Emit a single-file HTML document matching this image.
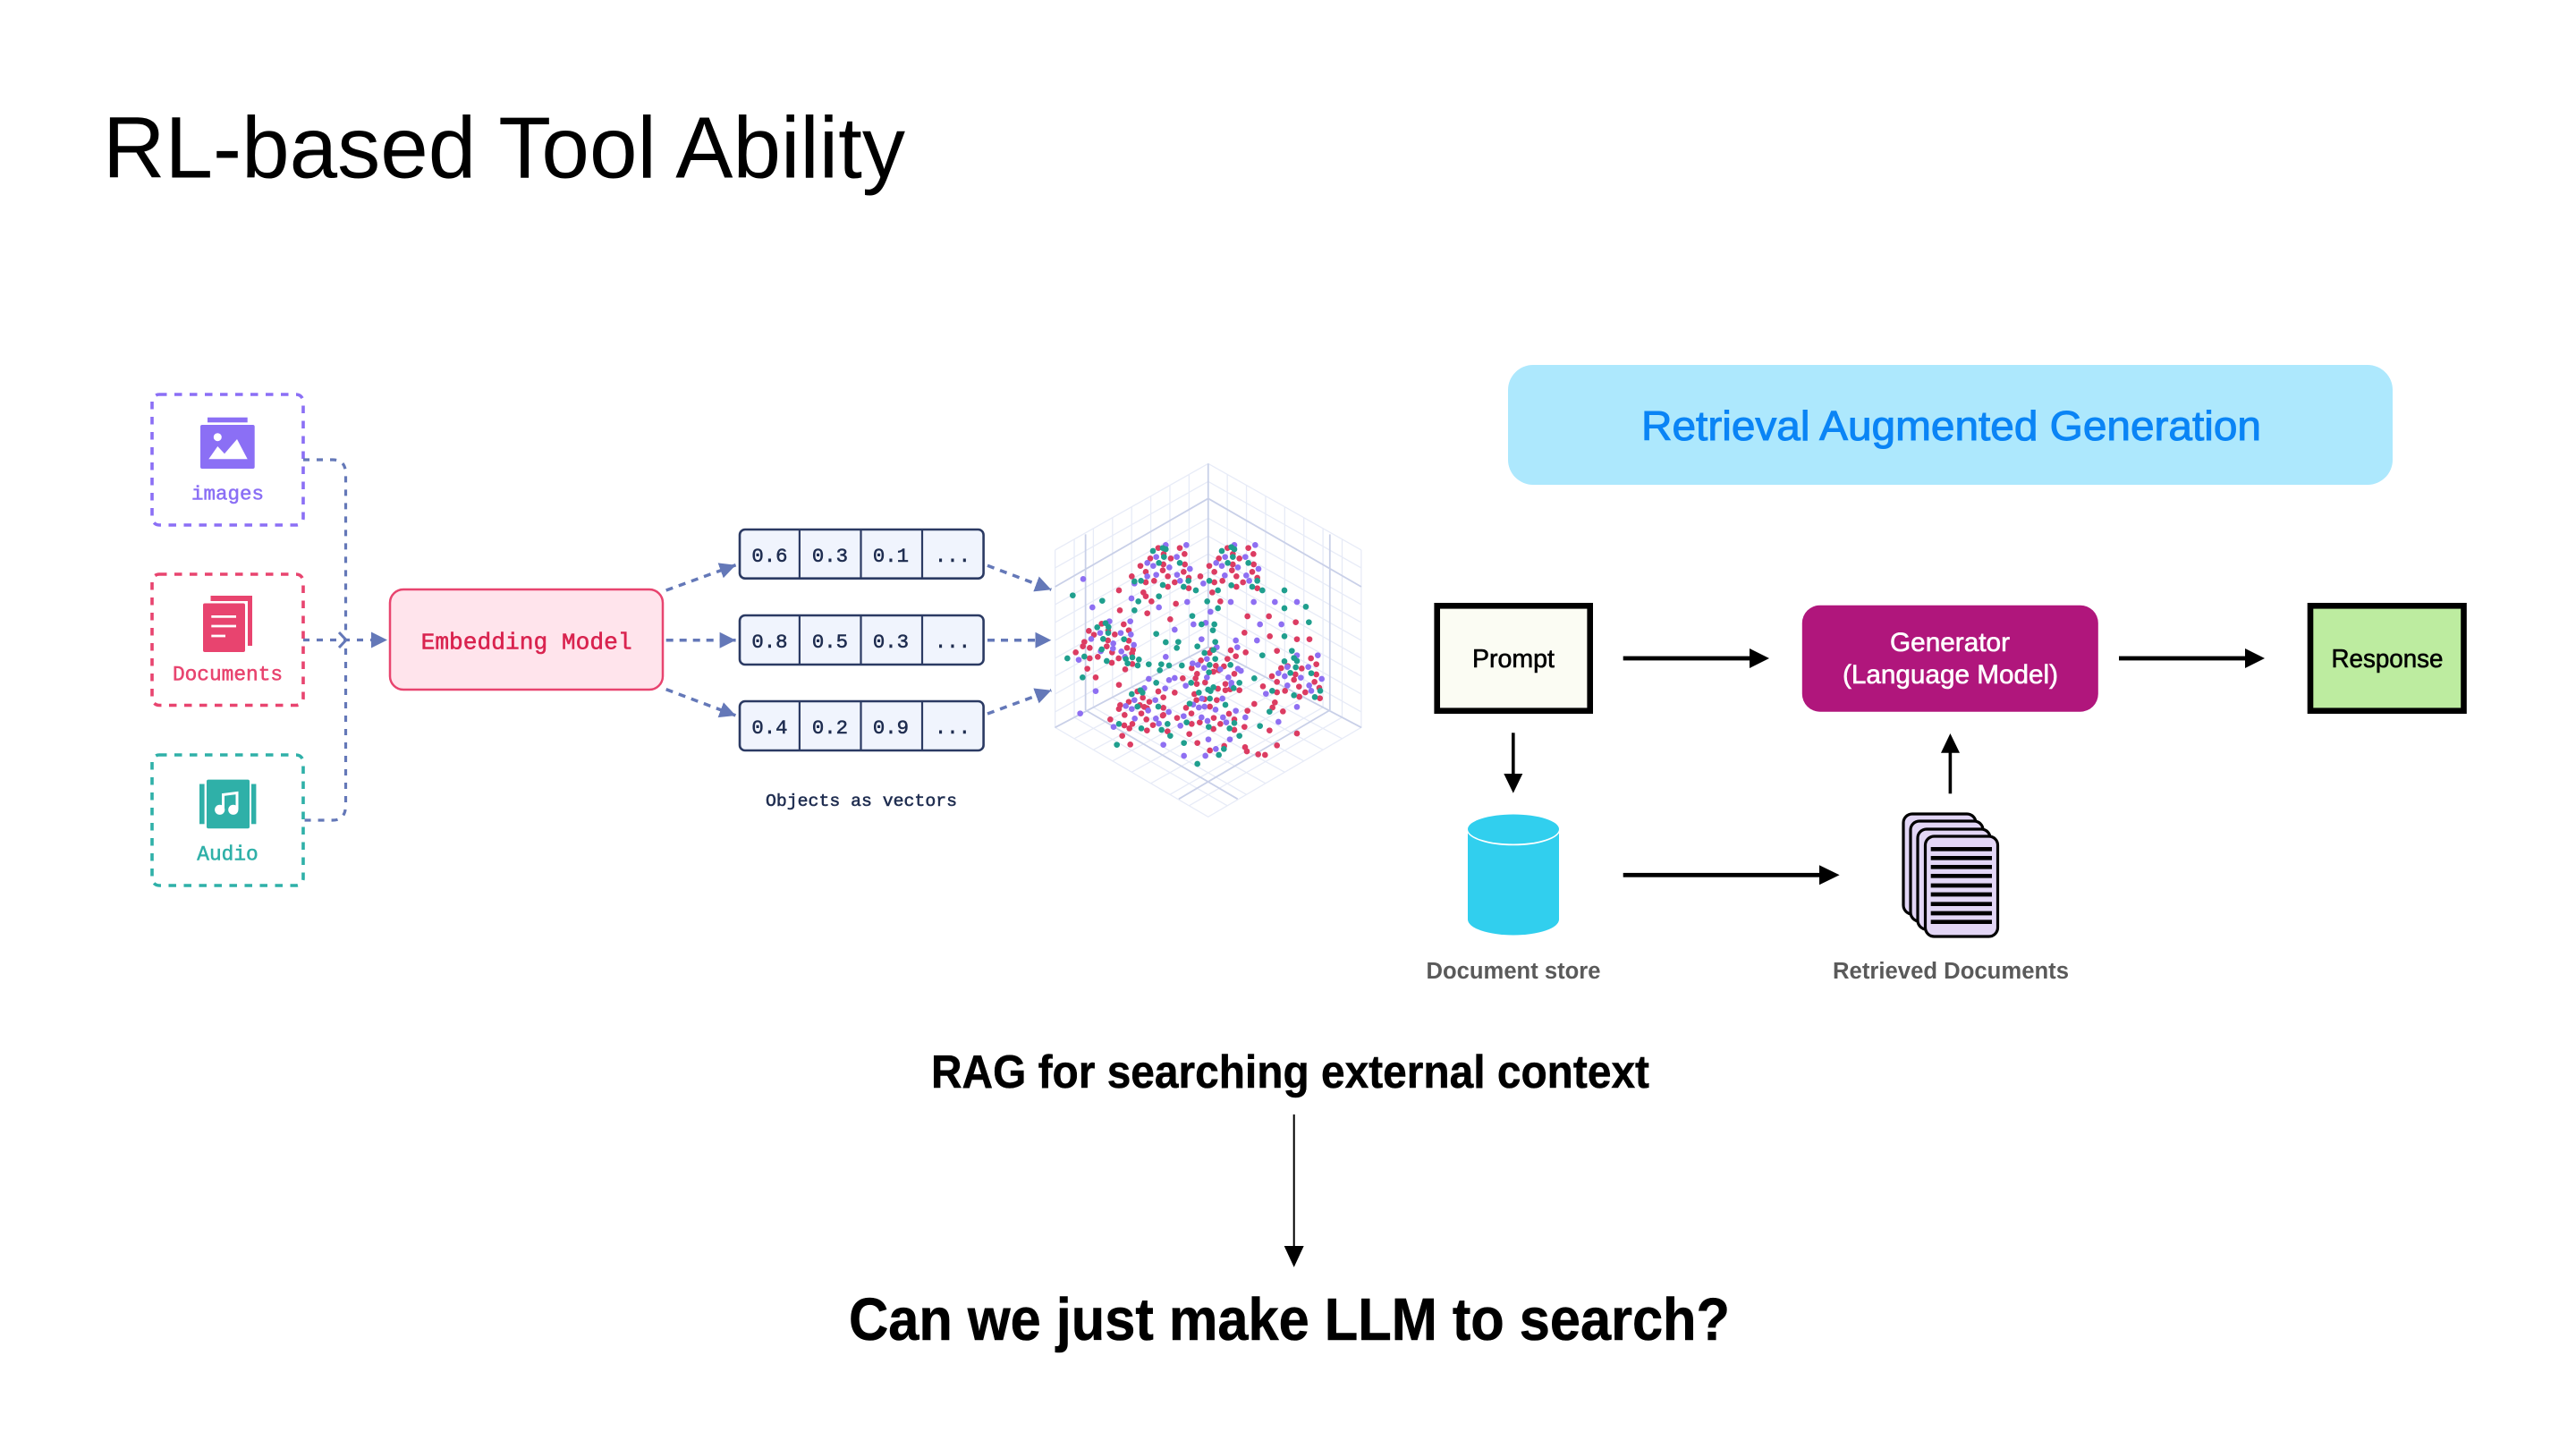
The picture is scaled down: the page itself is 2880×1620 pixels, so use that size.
<!DOCTYPE html>
<html><head><meta charset="utf-8"><title>RL-based Tool Ability</title>
<style>
html,body{margin:0;padding:0;background:#fff}
svg{display:block}
text{font-family:"Liberation Sans",sans-serif}
.m{font-family:"Liberation Mono",monospace;stroke-width:.55}
</style></head>
<body>
<svg width="2880" height="1620" viewBox="0 0 2880 1620" xmlns="http://www.w3.org/2000/svg">
<defs>
<marker id="bh" markerUnits="userSpaceOnUse" markerWidth="20" markerHeight="20" refX="18" refY="9" orient="auto"><path d="M0 0L18 9L0 18z" fill="#6478b8"/></marker>
</defs>
<rect width="2880" height="1620" fill="#fff"/>
<text x="115" y="198.5" font-size="97" textLength="897" lengthAdjust="spacingAndGlyphs" fill="#000">RL-based Tool Ability</text>

<!-- source boxes -->
<g fill="none" stroke-width="3.6" stroke-dasharray="8.5 8.5">
<rect x="170" y="441" width="169" height="146" rx="8" stroke="#8b6ff5"/>
<rect x="170" y="642" width="169" height="146.5" rx="8" stroke="#e8446f"/>
<rect x="170" y="844" width="169" height="146" rx="8" stroke="#2fb0a8"/>
</g>
<!-- images icon -->
<rect x="232" y="466.7" width="44.7" height="5.6" fill="#8b6ff5"/>
<rect x="224" y="475" width="60.7" height="49" rx="2" fill="#8b6ff5"/>
<circle cx="243.3" cy="488.7" r="4.5" fill="#fff"/>
<path d="M233.3 513.3L243.3 499L251 507.3L265 491L276.7 513.3z" fill="#fff"/>
<text class="m" x="254.5" y="558.5" font-size="22.5" text-anchor="middle" fill="#8b6ff5" stroke="#8b6ff5">images</text>
<!-- documents icon -->
<rect x="235.5" y="666" width="46.5" height="56" fill="#e8446f"/>
<rect x="224.5" y="672" width="52.5" height="60" fill="#fff"/>
<rect x="227" y="674.5" width="47" height="54.5" rx="2" fill="#e8446f"/>
<path d="M236.3 689.4H264M236.3 700H264M236.3 711H252" stroke="#fff" stroke-width="2.8" fill="none"/>
<text class="m" x="254.5" y="760.6" font-size="22.8" text-anchor="middle" fill="#e8446f" stroke="#e8446f">Documents</text>
<!-- audio icon -->
<rect x="223" y="876.5" width="5.6" height="44.8" fill="#2fb0a8"/>
<rect x="281" y="876.5" width="5.4" height="44.8" fill="#2fb0a8"/>
<rect x="231" y="871.6" width="48" height="54.7" rx="2" fill="#2fb0a8"/>
<circle cx="245.7" cy="905.3" r="5.6" fill="#fff"/><circle cx="260.8" cy="905.3" r="5.6" fill="#fff"/>
<path d="M249.5 905V888.5L265 886.5V905" fill="none" stroke="#fff" stroke-width="3"/>
<text class="m" x="254.5" y="961.5" font-size="22.8" text-anchor="middle" fill="#2fb0a8" stroke="#2fb0a8">Audio</text>

<!-- merge connector -->
<g fill="none" stroke="#6478b8" stroke-width="3.2" stroke-dasharray="7 8">
<path d="M339 514H372Q386.5 514 386.5 530V706M386.5 725V900Q386.5 917 372 917H339"/>
<path d="M339 715.5H420"/>
</g>
<path d="M379 707L387 715.5L379 724" fill="none" stroke="#6478b8" stroke-width="3"/>
<path d="M415 706.5L433 715.5L415 724.5z" fill="#6478b8"/>

<!-- embedding -->
<rect x="436" y="659" width="305" height="112" rx="15" fill="#ffe4ec" stroke="#e8446f" stroke-width="2.5"/>
<text class="m" x="470.6" y="725.4" font-size="26.2" textLength="236" lengthAdjust="spacingAndGlyphs" fill="#d9234f" stroke="#d9234f">Embedding Model</text>

<!-- dashed arrows -->
<g fill="none" stroke="#6478b8" stroke-width="3.5" stroke-dasharray="8 7">
<path d="M744.7 660L822.6 631.7" marker-end="url(#bh)"/>
<path d="M744.7 715.7H822.6" marker-end="url(#bh)"/>
<path d="M744.7 770.7L822.6 800" marker-end="url(#bh)"/>
<path d="M1104 632.3L1175.3 659.3" marker-end="url(#bh)"/>
<path d="M1104 715.7H1175.3" marker-end="url(#bh)"/>
<path d="M1104 798L1175.3 771.7" marker-end="url(#bh)"/>
</g>

<!-- vectors -->
<g fill="#f0f4fd" stroke="#2b3a63" stroke-width="2.6">
<rect x="827" y="592" width="272.6" height="54.7" rx="6"/>
<rect x="827" y="688" width="272.6" height="55" rx="6"/>
<rect x="827" y="784" width="272.6" height="55" rx="6"/>
</g>
<path d="M893.9 592V646.7M962.5 592V646.7M1031 592V646.7M893.9 688V743M962.5 688V743M1031 688V743M893.9 784V839M962.5 784V839M1031 784V839" stroke="#2b3a63" stroke-width="2.2" fill="none"/>
<g font-size="22.3" fill="#1f2d50" stroke="#1f2d50" text-anchor="middle">
<text class="m" x="860.5" y="628">0.6</text><text class="m" x="928" y="628">0.3</text><text class="m" x="996" y="628">0.1</text><text class="m" x="1065" y="628">...</text>
<text class="m" x="860.5" y="724">0.8</text><text class="m" x="928" y="724">0.5</text><text class="m" x="996" y="724">0.3</text><text class="m" x="1065" y="724">...</text>
<text class="m" x="860.5" y="820">0.4</text><text class="m" x="928" y="820">0.2</text><text class="m" x="996" y="820">0.9</text><text class="m" x="1065" y="820">...</text>
</g>
<text class="m" x="856" y="901" font-size="19.8" textLength="214" lengthAdjust="spacingAndGlyphs" fill="#1f2d50" stroke="#1f2d50">Objects as vectors</text>

<!-- 3D grid -->
<g transform="translate(720 500) scale(.5485 .3333)" fill="none">
<path vector-effect="non-scaling-stroke" stroke="#e7ebf7" stroke-width="1.3" d="
M838 345V940M877 309V906M916 273V872M955 237V839M994 201V805M1033 165V771M1072 128V738M1111 92V704
M1462 345V940M1423 309V906M1384 273V872M1345 237V839M1306 201V805M1267 165V771M1228 128V738M1189 92V704
M838 345L1150 55L1462 345M838 405L1150 115L1462 405M838 528L1150 238L1462 528M838 588L1150 298L1462 588M838 648L1150 358L1462 648M838 708L1150 418L1462 708M838 768L1150 478L1462 768M838 828L1150 538L1462 828M838 888L1150 598L1462 888
M838 940L1150 1240L1462 940L1150 670z
M1111 704L1423 977.5M1072 737.5L1384 1015M1033 771L1345 1052.5M994 805L1306 1090M955 839L1267 1127.5M916 872.5L1228 1165M877 906L1189 1202.5
M1189 704L877 977.5M1228 737.5L916 1015M1267 771L955 1052.5M1306 805L994 1090M1345 839L1033 1127.5M1384 872.5L1072 1165M1423 906L1111 1202.5"/>
<path vector-effect="non-scaling-stroke" stroke="#c9d0e8" stroke-width="1.8" d="M1150 55V670M838 468L1150 172L1462 468M900 292V882M1398 292V882M1150 670L838 940M1150 670L1462 940M900 882L1210 1180M1398 882L1090 1180"/>
</g>
<!-- scatter dots -->
<g transform="translate(1180 590) scale(.33333)" fill="none" stroke-linecap="round" stroke-width="20">
<path stroke="#dc3c62" d="M345 68h.01M417 68h.01M433 88h.01M363 88h.01M387 103h.01M318 103h.01M285 128h.01M303 148h.01M362 123h.01M360 143h.01M434 123h.01M430 148h.01M377 163h.01M447 168h.01M256 163h.01M303 183h.01M331 178h.01M400 183h.01M377 198h.01M447 203h.01M486 163h.01M295 217h.01M303 230h.01M213 210h.01M322 247h.01M404 255h.01M216 277h.01M308 287h.01M385 307h.01M577 68h.01M647 68h.01M664 88h.01M595 88h.01M617 103h.01M548 103h.01M516 128h.01M533 148h.01M595 123h.01M592 143h.01M665 123h.01M660 148h.01M607 163h.01M677 168h.01M560 178h.01M533 183h.01M629 183h.01M607 198h.01M677 203h.01M526 217h.01M553 247h.01M644 297h.01M716 297h.01M806 317h.01M634 352h.01M719 364h.01M810 374h.01M852 374h.01M743 413h.01M155 322h.01M229 324h.01M112 346h.01M129 359h.01M177 345h.01M199 358h.01M246 344h.01M176 378h.01M97 383h.01M92 398h.01M115 403h.01M246 379h.01M172 398h.01M240 403h.01M260 410h.01M190 418h.01M257 422h.01M68 418h.01M115 438h.01M142 433h.01M212 438h.01M189 453h.01M258 457h.01M107 473h.01M234 475h.01M135 502h.01M213 527h.01M525 410h.01M517 420h.01M588 411h.01M605 431h.01M638 418h.01M577 440h.01M488 445h.01M457 471h.01M538 463h.01M565 465h.01M530 483h.01M548 478h.01M475 490h.01M470 505h.01M427 505h.01M502 519h.01M474 524h.01M600 490h.01M570 524h.01M545 540h.01M570 545h.01M617 545h.01M400 553h.01M345 549h.01M362 569h.01M275 549h.01M293 570h.01M466 558h.01M473 578h.01M315 584h.01M246 584h.01M217 595h.01M213 608h.01M283 595h.01M298 601h.01M307 605h.01M232 628h.01M288 623h.01M305 643h.01M362 604h.01M362 628h.01M408 638h.01M456 623h.01M438 604h.01M500 575h.01M541 578h.01M586 542h.01M518 600h.01M531 638h.01M484 653h.01M457 658h.01M553 658h.01M600 643h.01M582 624h.01M644 614h.01M667 591h.01M634 668h.01M600 678h.01M530 675h.01M376 683h.01M307 680h.01M258 658h.01M248 673h.01M231 663h.01M327 662h.01M184 643h.01M360 630h.01M224 698h.01M251 727h.01M449 692h.01M476 722h.01M566 732h.01M518 747h.01M636 736h.01M642 750h.01M680 760h.01M703 762h.01M743 730h.01M810 690h.01M718 680h.01M763 616h.01M736 586h.01M728 603h.01M696 532h.01M743 517h.01M743 552h.01M770 547h.01M726 498h.01M757 471h.01M779 464h.01M805 492h.01M800 510h.01M826 472h.01M817 533h.01M838 552h.01M857 438h.01M875 458h.01M875 492h.01M869 517h.01M885 537h.01M887 572h.01M818 567h.01"/>
<path stroke="#8e6ff2" d="M370 58h.01M439 58h.01M308 118h.01M338 98h.01M407 98h.01M328 128h.01M382 133h.01M451 138h.01M338 158h.01M308 163h.01M408 158h.01M418 178h.01M265 187h.01M255 237h.01M347 267h.01M442 249h.01M124 267h.01M93 172h.01M600 58h.01M670 58h.01M569 98h.01M637 98h.01M539 118h.01M558 128h.01M612 133h.01M681 138h.01M568 160h.01M640 160h.01M650 178h.01M496 187h.01M665 249h.01M588 249h.01M736 249h.01M810 249h.01M520 282h.01M504 319h.01M463 324h.01M686 324h.01M758 324h.01M400 342h.01M490 374h.01M676 378h.01M605 378h.01M610 401h.01M181 314h.01M251 314h.01M150 353h.01M219 353h.01M253 358h.01M120 373h.01M194 388h.01M263 393h.01M193 405h.01M221 415h.01M152 414h.01M233 433h.01M78 443h.01M370 433h.01M135 548h.01M83 623h.01M195 668h.01M541 401h.01M508 440h.01M499 470h.01M460 455h.01M478 460h.01M553 475h.01M612 473h.01M622 480h.01M580 502h.01M590 520h.01M591 530h.01M508 502h.01M437 530h.01M400 504h.01M381 511h.01M313 507h.01M368 539h.01M298 538h.01M335 578h.01M265 578h.01M236 598h.01M256 608h.01M311 613h.01M266 640h.01M337 640h.01M380 618h.01M347 657h.01M430 632h.01M419 664h.01M462 593h.01M481 603h.01M491 573h.01M500 600h.01M537 610h.01M560 573h.01M605 614h.01M490 636h.01M510 648h.01M562 636h.01M573 653h.01M637 636h.01M706 557h.01M748 651h.01M810 601h.01M778 529h.01M748 488h.01M769 498h.01M778 467h.01M823 503h.01M810 428h.01M848 467h.01M880 428h.01M893 507h.01M851 529h.01M858 547h.01M513 710h.01M585 710h.01M538 742h.01M503 765h.01M431 765h.01M362 728h.01"/>
<path stroke="#1f9f8e" d="M360 68h.01M327 78h.01M370 72h.01M364 98h.01M347 118h.01M417 118h.01M265 180h.01M287 178h.01M360 192h.01M446 178h.01M430 198h.01M471 210h.01M516 178h.01M545 210h.01M590 193h.01M558 78h.01M590 65h.01M600 72h.01M595 98h.01M578 118h.01M647 118h.01M677 178h.01M660 198h.01M694 210h.01M768 210h.01M768 270h.01M840 265h.01M58 227h.01M157 245h.01M278 247h.01M265 277h.01M347 230h.01M509 247h.01M545 270h.01M459 296h.01M490 324h.01M533 324h.01M528 344h.01M850 317h.01M768 364h.01M338 356h.01M370 384h.01M412 383h.01M407 403h.01M476 398h.01M536 383h.01M140 334h.01M168 320h.01M178 333h.01M177 353h.01M160 373h.01M230 374h.01M155 408h.01M97 432h.01M40 438h.01M172 447h.01M236 440h.01M242 455h.01M258 435h.01M280 442h.01M276 462h.01M313 458h.01M355 458h.01M350 478h.01M381 462h.01M424 462h.01M91 502h.01M694 428h.01M793 413h.01M800 437h.01M810 447h.01M768 448h.01M806 468h.01M788 487h.01M858 488h.01M667 505h.01M888 547h.01M800 562h.01M870 568h.01M500 420h.01M530 410h.01M536 440h.01M517 460h.01M587 460h.01M515 485h.01M455 520h.01M617 520h.01M338 520h.01M530 535h.01M512 543h.01M520 548h.01M598 538h.01M481 553h.01M518 573h.01M256 558h.01M285 545h.01M292 553h.01M450 590h.01M345 600h.01M275 600h.01M570 594h.01M376 658h.01M213 658h.01M288 673h.01M356 678h.01M385 698h.01M440 653h.01M514 668h.01M584 673h.01M600 655h.01M686 665h.01M617 698h.01M431 722h.01M206 728h.01M565 742h.01M548 762h.01M476 792h.01M718 617h.01M727 547h.01"/>
</g>

<!-- RAG banner -->
<rect x="1686" y="408" width="989" height="134" rx="28" fill="#ade8fd"/>
<text x="1835" y="492" font-size="46" textLength="693" lengthAdjust="spacingAndGlyphs" fill="#0a84f5" stroke="#0a84f5" stroke-width="1">Retrieval Augmented Generation</text>

<!-- RAG flow -->
<rect x="1606.7" y="677.3" width="171" height="117.4" fill="#fbfcf3" stroke="#000" stroke-width="6.6"/>
<text x="1646" y="746" font-size="29" textLength="92" lengthAdjust="spacingAndGlyphs" fill="#000" stroke="#000" stroke-width=".6">Prompt</text>
<rect x="2014.8" y="676.7" width="331" height="119" rx="20" fill="#b0167c"/>
<text x="2113" y="728" font-size="29.5" textLength="134" lengthAdjust="spacingAndGlyphs" fill="#fff" stroke="#fff" stroke-width=".6">Generator</text>
<text x="2060" y="764" font-size="29.5" textLength="241" lengthAdjust="spacingAndGlyphs" fill="#fff" stroke="#fff" stroke-width=".6">(Language Model)</text>
<rect x="2583" y="677.3" width="171.5" height="117.4" fill="#bdeca0" stroke="#000" stroke-width="6.6"/>
<text x="2606.5" y="746" font-size="29" textLength="125" lengthAdjust="spacingAndGlyphs" fill="#000" stroke="#000" stroke-width=".6">Response</text>

<g fill="#000">
<rect x="1814.7" y="733.6" width="145" height="4.8"/><path d="M1956 725L1978 736L1956 747z"/>
<rect x="2369" y="733.6" width="145" height="4.8"/><path d="M2510 725L2532 736L2510 747z"/>
<rect x="1814.7" y="975.9" width="222" height="4.8"/><path d="M2034 967.3L2056.6 978.3L2034 989.3z"/>
<rect x="1690" y="819.3" width="3.6" height="50"/><path d="M1681.3 865H1702.3L1691.8 886.7z"/>
<rect x="2178.6" y="838" width="3.6" height="49.3"/><path d="M2170 841.7H2191L2180.4 820z"/>
</g>

<!-- cylinder -->
<path d="M1641 927V1028A51 17.5 0 0 0 1743 1028V927z" fill="#31cfee"/>
<path d="M1641 927A51 17 0 0 0 1743 927" fill="none" stroke="#fff" stroke-width="2.6"/>
<ellipse cx="1692" cy="927" rx="51" ry="16.5" fill="#31cfee"/>

<!-- stacked documents -->
<g fill="#e2d6f5" stroke="#000" stroke-width="3.2">
<rect x="2128" y="910" width="81" height="112" rx="10"/>
<rect x="2136" y="918" width="81" height="112" rx="10"/>
<rect x="2144" y="927" width="81" height="112" rx="10"/>
<rect x="2152.5" y="935" width="81" height="112" rx="10"/>
</g>
<path d="M2158.7 949.3H2227M2158.7 959.3H2227M2158.7 969.3H2227M2158.7 979.3H2227M2158.7 990H2227M2158.7 1000H2227M2158.7 1010.7H2227M2158.7 1021H2227M2158.7 1030.7H2227" stroke="#000" stroke-width="4.7" fill="none"/>

<text x="1594.5" y="1094" font-size="25.5" font-weight="700" textLength="195" lengthAdjust="spacingAndGlyphs" fill="#5a5a5a">Document store</text>
<text x="2049" y="1094" font-size="25.5" font-weight="700" textLength="264" lengthAdjust="spacingAndGlyphs" fill="#5a5a5a">Retrieved Documents</text>

<!-- bottom -->
<text x="1041" y="1216" font-size="52" font-weight="700" textLength="803" lengthAdjust="spacingAndGlyphs" fill="#000" stroke="#000" stroke-width=".5">RAG for searching external context</text>
<rect x="1445.7" y="1246" width="2" height="150" fill="#000"/>
<path d="M1435.7 1393H1457.7L1446.7 1416.7z" fill="#000"/>
<text x="949" y="1498" font-size="67" font-weight="700" textLength="985" lengthAdjust="spacingAndGlyphs" fill="#000" stroke="#000" stroke-width=".6">Can we just make LLM to search?</text>
</svg>
</body></html>
